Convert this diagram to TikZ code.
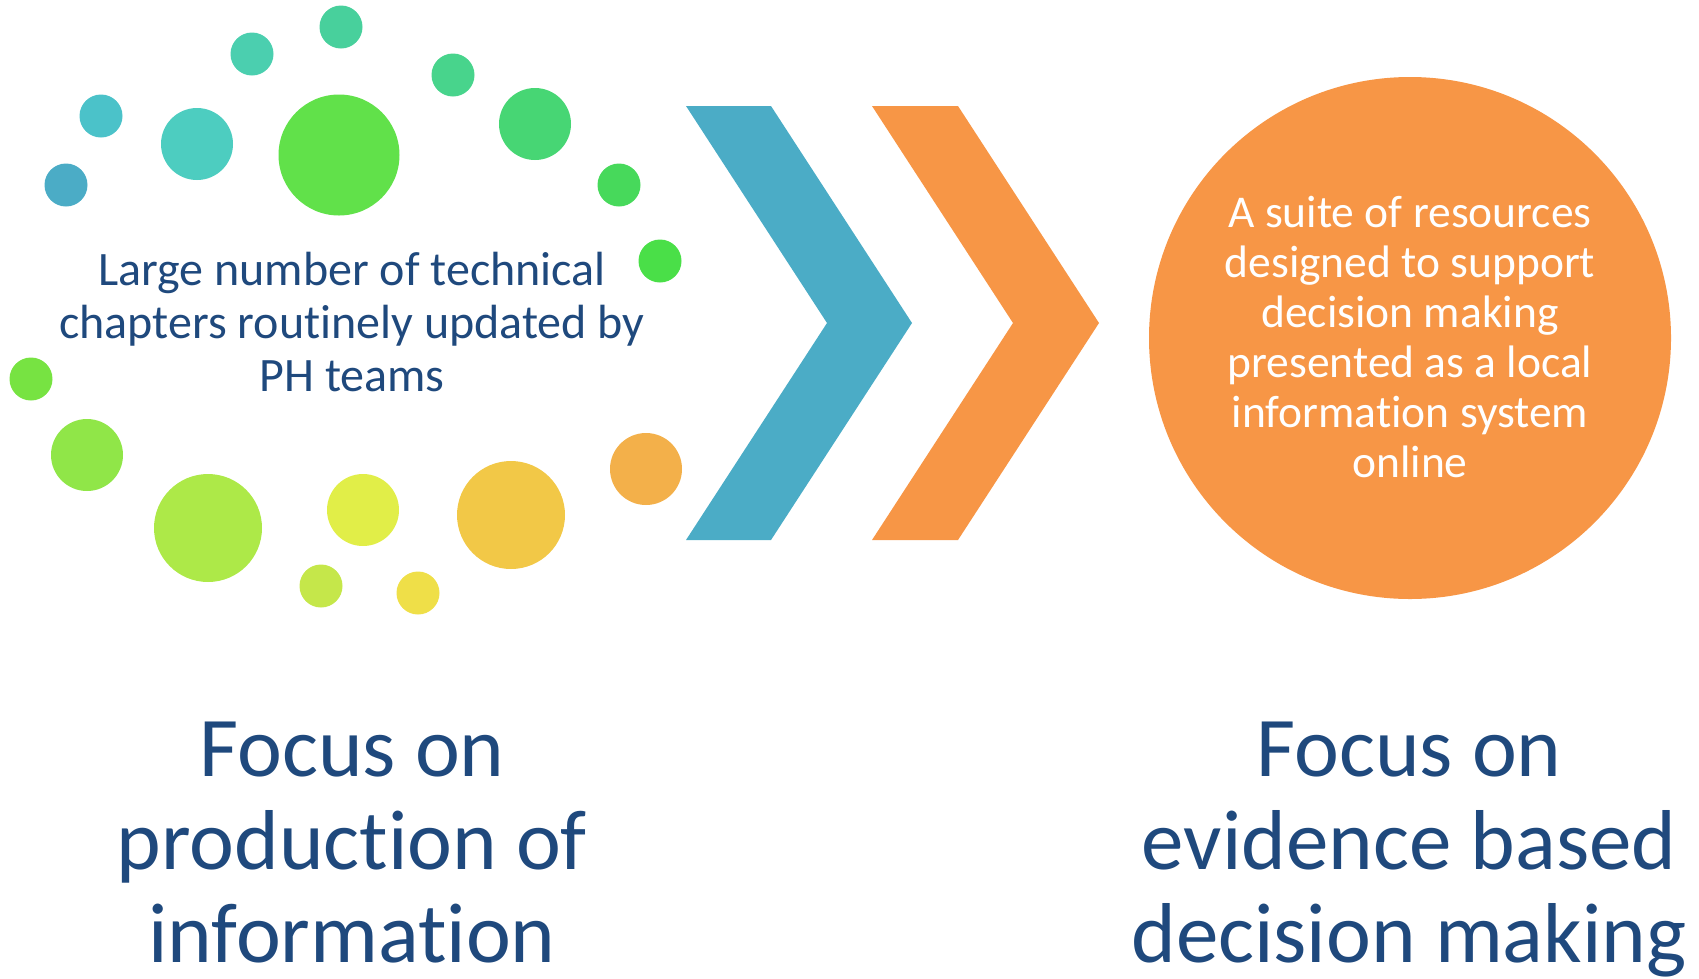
\documentclass[tikz,border=0pt]{standalone}
\usepackage{fontspec}
\setmainfont{Carlito}[Ligatures={NoCommon}]
\definecolor{txtblue}{HTML}{1F497D}
\definecolor{chevblue}{HTML}{4BACC6}
\definecolor{chevorange}{HTML}{F79646}
\definecolor{c1}{HTML}{48D09C}
\definecolor{c2}{HTML}{4BCFAF}
\definecolor{c3}{HTML}{48D48C}
\definecolor{c4}{HTML}{4BC2C9}
\definecolor{c5}{HTML}{4DCDC0}
\definecolor{c6}{HTML}{61E14A}
\definecolor{c7}{HTML}{47D674}
\definecolor{c8}{HTML}{4BACC6}
\definecolor{c9}{HTML}{47D95B}
\definecolor{c10}{HTML}{4ADF48}
\definecolor{c11}{HTML}{77E342}
\definecolor{c12}{HTML}{90E648}
\definecolor{c13}{HTML}{ADE948}
\definecolor{c14}{HTML}{E1EE48}
\definecolor{c15}{HTML}{F2C847}
\definecolor{c16}{HTML}{F3B04A}
\definecolor{c17}{HTML}{C5E74A}
\definecolor{c18}{HTML}{EFDF48}
\tikzset{
  dot/.style={circle, inner sep=0pt, draw=none},
  leftlabel/.style={align=center, text=txtblue, anchor=base, font=\fontsize{48}{53}\selectfont},
  circlabel/.style={align=center, text=white, anchor=base, font=\fontsize{45.5}{50}\selectfont},
  bottomlabel/.style={align=center, text=txtblue, anchor=base, font=\fontsize{85}{93}\selectfont},
}
\begin{document}
\begin{tikzpicture}[x=1pt,y=-1pt]
\useasboundingbox (0,0) rectangle (1699,978);
% dots
\node[dot, fill=c1, minimum size=43] (d1) at (341,27) {};
\node[dot, fill=c2, minimum size=43] (d2) at (252,54) {};
\node[dot, fill=c3, minimum size=43] (d3) at (453,75) {};
\node[dot, fill=c4, minimum size=43] (d4) at (101,116) {};
\node[dot, fill=c5, minimum size=72] (d5) at (197,144) {};
\node[dot, fill=c6, minimum size=121] (d6) at (339,155) {};
\node[dot, fill=c7, minimum size=72] (d7) at (535,124) {};
\node[dot, fill=c8, minimum size=43] (d8) at (66,185) {};
\node[dot, fill=c9, minimum size=43] (d9) at (619,185) {};
\node[dot, fill=c10, minimum size=43] (d10) at (660,261) {};
\node[dot, fill=c11, minimum size=43] (d11) at (31,379) {};
\node[dot, fill=c12, minimum size=72] (d12) at (87,455) {};
\node[dot, fill=c13, minimum size=108] (d13) at (208,528) {};
\node[dot, fill=c14, minimum size=72] (d14) at (363,510) {};
\node[dot, fill=c15, minimum size=108] (d15) at (511,515) {};
\node[dot, fill=c16, minimum size=72] (d16) at (646,469) {};
\node[dot, fill=c17, minimum size=43] (d17) at (321,586) {};
\node[dot, fill=c18, minimum size=43] (d18) at (418,593) {};
% chevrons
\fill[chevblue] (686,106) -- (771,106) -- (912,323) -- (771,540) -- (686,540) -- (827,323) -- cycle;
\fill[chevorange] (872,106) -- (958,106) -- (1099,323) -- (958,540) -- (872,540) -- (1013,323) -- cycle;
% big circle
\node[dot, fill=chevorange, minimum size=522] (big) at (1410,338) {};
% texts (base anchor = baseline of last line)
\node[leftlabel] (lt) at (352,391) {Large number of technical\\chapters routinely updated by\\PH teams};
\node[circlabel] (ct) at (1410,477) {A suite of resources\\designed to support\\decision making\\presented as a local\\information system\\online};
\node[bottomlabel] (bl) at (352,962) {Focus on\\production of\\information};
\node[bottomlabel] (br) at (1409,962) {Focus on\\evidence based\\decision making};
\end{tikzpicture}
\end{document}
